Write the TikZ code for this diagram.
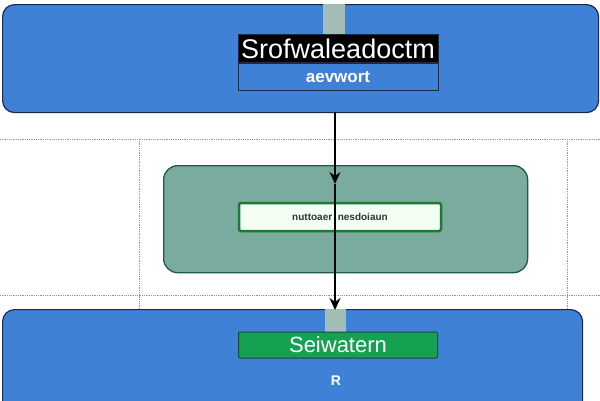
\documentclass[tikz,border=0pt]{standalone}
\usepackage{fontspec}
\setmainfont{Liberation Sans}
\usetikzlibrary{arrows.meta}
\definecolor{bluebox}{HTML}{4081D8}
\definecolor{blueedge}{HTML}{1A2A48}
\definecolor{greenpanel}{HTML}{7AAB9F}
\definecolor{greenedge}{HTML}{1F5A46}
\definecolor{innergreen}{HTML}{1E7A30}
\definecolor{stubcol}{HTML}{A2BDB5}
\definecolor{barcol}{HTML}{16A152}
\definecolor{dotcol}{HTML}{8796C2}
\tikzset{
  panel/.style={draw=blueedge, line width=1.2pt, fill=bluebox, rounded corners=12pt},
  midpanel/.style={draw=greenedge, line width=1.3pt, fill=greenpanel, rounded corners=14pt},
  stub/.style={fill=stubcol, draw=none},
  guide/.style={draw=dotcol, densely dotted, line width=0.8pt},
  conn/.style={draw=black, line width=1.8pt, -{Stealth[length=12pt,width=11pt]}},
}
\begin{document}
\begin{tikzpicture}[x=1pt,y=-1pt]
\useasboundingbox (0,0) rectangle (600,400);
% guides
\draw[guide] (0,139) -- (600,139);
\draw[guide] (0,295) -- (600,295);
\draw[guide] (139,139) -- (139,309);
\draw[guide] (567,139) -- (567,309);
% top panel
\node[panel, minimum width=596pt, minimum height=108pt, anchor=north west] (top) at (2,4) {};
\node[stub, minimum width=22pt, minimum height=31pt, anchor=north] (topstub) at (334,4) {};
\node[fill=black, draw=blueedge, line width=1pt, minimum width=200pt, minimum height=28pt, anchor=north, inner sep=0pt, text=white, font=\fontsize{27}{28}\selectfont] (title) at (338,34) {Srofwaleadoctm};
\node[fill=bluebox, draw=blueedge, line width=1pt, minimum width=200pt, minimum height=27pt, anchor=north, inner sep=0pt, text=white, font=\fontsize{17}{18}\selectfont\bfseries] (sub) at (title.south) {aevwort};
% middle panel
\node[midpanel, minimum width=364pt, minimum height=107pt, anchor=north west] (mid) at (163,165) {};
\node[fill=white!95!green, draw=innergreen, line width=2.5pt, rounded corners=2pt, minimum width=202pt, minimum height=28pt, inner sep=0pt, font=\fontsize{10}{11}\selectfont\bfseries, text=black!80] (inner) at (340,217) {nuttoaer\ \ nesdoiaun};
% bottom panel
\node[panel, minimum width=580pt, minimum height=110pt, anchor=north west] (bot) at (2,309) {};
\node[stub, minimum width=21pt, minimum height=24pt, anchor=north] (botstub) at (335,309) {};
\node[fill=barcol, draw=greenedge!80!black, line width=1pt, rounded corners=1pt, minimum width=199pt, minimum height=26pt, inner sep=0pt, text=white, font=\fontsize{22}{23}\selectfont] (bar) at (338,345) {Seiwatern};
\node[text=white, font=\fontsize{14}{15}\selectfont\bfseries] (r) at (336,381) {R};
% connectors
\coordinate (a1) at (335,184);
\coordinate (a2) at (335,310);
\coordinate (s1) at (335,112);
\draw[conn] (s1) -- (a1);
\draw[conn] (a1) -- (a2);
\end{tikzpicture}
\end{document}
